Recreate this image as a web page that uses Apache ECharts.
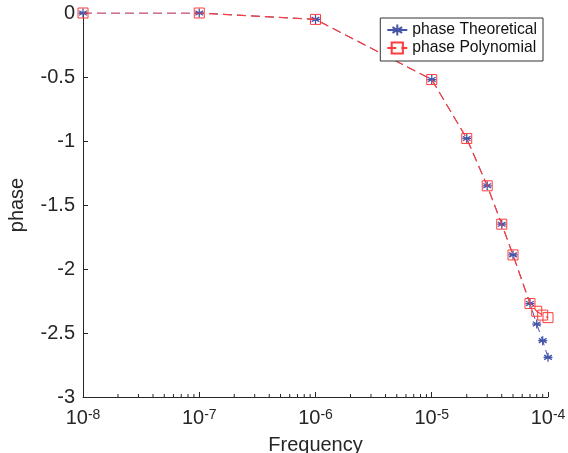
<!DOCTYPE html>
<html>
<head>
<meta charset="utf-8">
<script src="https://cdn.jsdelivr.net/npm/echarts@6/dist/echarts.min.js"></script>
<style>html,body{margin:0;padding:0;background:#fff;}#c{width:568px;height:453px;}</style>
</head>
<body>
<div id="c"></div>
<script>
// Data
var freqTheoretical = [1e-8, 1e-7, 1e-6, 1e-5, 2e-5, 3e-5, 4e-5, 5e-5, 7e-5, 8e-5, 9e-5, 1e-4];
var phaseTheoretical = [0, 0, -0.05, -0.52, -0.98, -1.35, -1.65, -1.89, -2.27, -2.43, -2.56, -2.69];
var freqPolynomial = [1e-8, 1e-7, 1e-6, 1e-5, 2e-5, 3e-5, 4e-5, 5e-5, 7e-5, 8e-5, 9e-5, 1e-4];
var phasePolynomial = [0, 0, -0.05, -0.52, -0.98, -1.35, -1.65, -1.89, -2.27, -2.33, -2.36, -2.38];
var minorTickFreqs = [];
var decades = [-8, -7, -6, -5];
var mults = [2, 3, 4, 5, 6, 7, 8, 9];
decades.forEach(function (d) { mults.forEach(function (m) { minorTickFreqs.push(+(m * Math.pow(10, d)).toPrecision(3)); }); });
var seriesNames = ['phase Theoretical', 'phase Polynomial'];

function zip(xs, ys) { return xs.map(function (x, i) { return [x, ys[i]]; }); }

var starPath = 'path://M0,-5L0,5M-4.33,-2.5L4.33,2.5M-4.33,2.5L4.33,-2.5M-5,0L5,0';
var blue = '#4455aa';
var red = '#ff3b3b';
var axisColor = '#262626';
var font = 'Liberation Sans, Arial, sans-serif';
var dash = [9, 5];

var chart = echarts.init(document.getElementById('c'), null, {renderer: 'canvas'});
chart.setOption({
  animation: false,
  backgroundColor: '#fff',
  grid: {left: 83, right: 20, top: 13, bottom: 56, containLabel: false, outerBoundsMode: 'none'},
  legend: {
    data: [{name: seriesNames[0]}, {name: seriesNames[1]}],
    orient: 'vertical',
    right: 25, top: 18,
    borderColor: '#333', borderWidth: 1, borderRadius: 0,
    padding: [3, 6, 4, 6],
    itemGap: 0, itemWidth: 20, itemHeight: 14,
    textStyle: {fontFamily: font, fontSize: 15.7, lineHeight: 18, color: '#111'},
    backgroundColor: '#fff'
  },
  xAxis: {
    type: 'log', logBase: 10, min: 1e-8, max: 1e-4,
    name: 'Frequency', nameLocation: 'middle', nameGap: 36,
    nameTextStyle: {fontFamily: font, fontSize: 20, color: axisColor},
    axisLine: {onZero: false, lineStyle: {color: axisColor, width: 1}},
    axisTick: {inside: true, length: 5, lineStyle: {color: axisColor}},
    splitLine: {show: false},
    axisLabel: {
      margin: 11,
      formatter: function (v) { return '{b|10}{s|' + Math.round(Math.log10(v)) + '}'; },
      rich: {
        b: {fontFamily: font, fontSize: 20, color: axisColor, verticalAlign: 'bottom', lineHeight: 20},
        s: {fontFamily: font, fontSize: 14, color: axisColor, verticalAlign: 'top', padding: [0, 0, 9, 0], lineHeight: 14}
      }
    }
  },
  yAxis: {
    type: 'value', min: -3, max: 0, interval: 0.5,
    name: 'phase', nameLocation: 'middle', nameGap: 56, nameRotate: 90,
    nameTextStyle: {fontFamily: font, fontSize: 20, color: axisColor},
    axisLine: {show: true, onZero: false, lineStyle: {color: axisColor, width: 1}},
    axisTick: {show: true, inside: true, length: 5, lineStyle: {color: axisColor}},
    splitLine: {show: false},
    axisLabel: {fontFamily: font, fontSize: 20, color: axisColor, margin: 8}
  },
  series: [
    {
      name: seriesNames[0], type: 'line',
      data: zip(freqTheoretical, phaseTheoretical),
      symbol: starPath, symbolSize: 9,
      lineStyle: {color: blue, width: 1, type: dash},
      itemStyle: {color: 'none', borderColor: blue, borderWidth: 1.3},
      z: 2
    },
    {
      name: seriesNames[1], type: 'line',
      data: zip(freqPolynomial, phasePolynomial),
      symbol: 'rect', symbolSize: 10,
      lineStyle: {color: red, width: 1.2, type: dash},
      itemStyle: {color: 'none', borderColor: red, borderWidth: 1},
      z: 3
    },
    {
      name: 'minorTicks', type: 'custom',
      data: minorTickFreqs.map(function (f) { return [f, -3]; }),
      silent: true, clip: false,
      renderItem: function (params, api) {
        var p = api.coord([api.value(0), api.value(1)]);
        return {type: 'line', shape: {x1: p[0], y1: p[1], x2: p[0], y2: p[1] - 3}, style: {stroke: axisColor, lineWidth: 1}};
      },
      z: 1
    }
  ]
});
</script>
</body>
</html>
